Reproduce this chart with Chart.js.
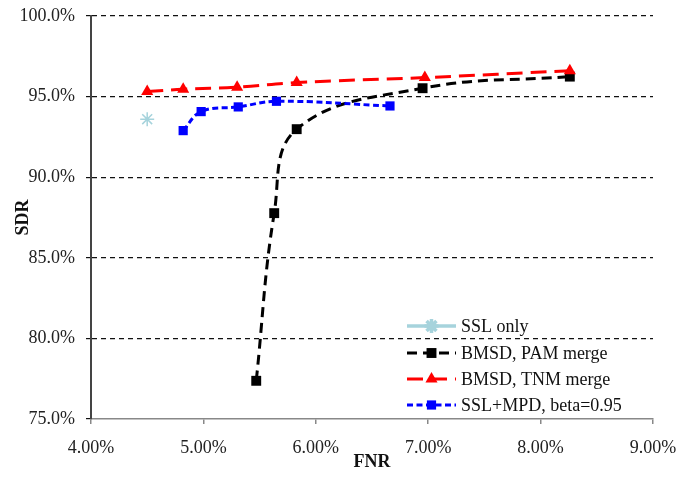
<!DOCTYPE html>
<html>
<head>
<meta charset="utf-8">
<script src="https://cdn.jsdelivr.net/npm/chart.js@4"></script>
<style>
  html, body { margin: 0; padding: 0; background: #fff; }
  #wrap { width: 678px; height: 478px; }
</style>
</head>
<body>
<div id="wrap"><canvas id="c"></canvas></div>
<script>
// datos (porcentajes)
const sslOnlyFNR = [4.50];
const sslOnlySDR = [93.6];
const pamFNR = [5.47, 5.63, 5.83, 6.95, 8.26];
const pamSDR = [77.37, 87.77, 92.98, 95.52, 96.24];
const tnmFNR = [4.50, 4.82, 5.30, 5.83, 6.97, 8.26];
const tnmSDR = [95.31, 95.46, 95.58, 95.87, 96.18, 96.61];
const mpdFNR = [4.82, 4.98, 5.31, 5.65, 6.66];
const mpdSDR = [92.89, 94.07, 94.36, 94.71, 94.42];
const xTicks = [4, 5, 6, 7, 8, 9];
const yTicks = [75, 80, 85, 90, 95, 100];

const toPts = (xs, ys) => xs.map((x, i) => ({ x: x, y: ys[i] }));
const FONT = 'Liberation Serif';

/* Leyenda dibujada dentro del área del gráfico, abajo a la derecha */
const insideLegend = {
  id: 'insideLegend',
  afterDraw(chart) {
    const ctx = chart.ctx;
    const x0 = 407, x1 = 456, tx = 461;
    const rows = [326, 353, 379, 405];
    ctx.save();
    chart.data.datasets.forEach((ds, i) => {
      const y = rows[i];
      ctx.strokeStyle = ds.borderColor;
      ctx.lineWidth = ds.borderWidth;
      ctx.setLineDash(ds.borderDash || []);
      ctx.beginPath();
      ctx.moveTo(x0, y);
      ctx.lineTo(x1, y);
      ctx.stroke();
      ctx.setLineDash([]);
      ctx.fillStyle = ds.pointBackgroundColor;
      ctx.strokeStyle = ds.pointBorderColor;
      Chart.helpers.drawPoint(ctx, {
        pointStyle: ds.pointStyle, radius: ds.pointRadius, rotation: 0,
        borderWidth: ds.pointBorderWidth
      }, (x0 + x1) / 2, y);
      ctx.fillStyle = '#111';
      ctx.font = '18px "' + FONT + '"';
      ctx.textAlign = 'left';
      ctx.textBaseline = 'middle';
      ctx.fillText(ds.label, tx, y + 1);
    });
    ctx.restore();
  }
};

new Chart(document.getElementById('c'), {
  type: 'scatter',
  data: {
    datasets: [{
      label: 'SSL only',
      data: toPts(sslOnlyFNR, sslOnlySDR),
      borderColor: '#a6d3dc',
      borderWidth: 3.5,
      pointStyle: 'star',
      pointRadius: 7,
      pointBorderWidth: 1.5,
      pointBackgroundColor: '#a6d3dc',
      pointBorderColor: '#a6d3dc',
      showLine: false
    }, {
      label: 'BMSD, PAM merge',
      data: toPts(pamFNR, pamSDR),
      borderColor: '#000000',
      borderWidth: 3,
      borderDash: [10, 6],
      pointStyle: 'rect',
      pointRadius: 7,
      pointBorderWidth: 0,
      pointBackgroundColor: '#000000',
      pointBorderColor: '#000000',
      showLine: true,
      tension: 0.4,
      order: 2
    }, {
      label: 'BMSD, TNM merge',
      data: toPts(tnmFNR, tnmSDR),
      borderColor: '#ff0000',
      borderWidth: 3,
      borderDash: [16, 8],
      pointStyle: 'triangle',
      pointRadius: 7,
      pointBorderWidth: 0,
      pointBackgroundColor: '#ff0000',
      pointBorderColor: '#ff0000',
      showLine: true,
      tension: 0.4,
      order: 1
    }, {
      label: 'SSL+MPD, beta=0.95',
      data: toPts(mpdFNR, mpdSDR),
      borderColor: '#0000ff',
      borderWidth: 3,
      borderDash: [6, 3.5],
      pointStyle: 'rect',
      pointRadius: 6.5,
      pointBorderWidth: 0,
      pointBackgroundColor: '#0000ff',
      pointBorderColor: '#0000ff',
      showLine: true,
      tension: 0.4,
      order: 0
    }]
  },
  options: {
    responsive: true,
    maintainAspectRatio: false,
    animation: false,
    layout: { padding: { left: 0, right: 25, top: 16, bottom: 4 } },
    scales: {
      x: {
        type: 'linear',
        min: 4, max: 9,
        afterBuildTicks: (s) => { s.ticks = xTicks.map(v => ({ value: v })); },
        afterFit: (s) => { s.height = 55; s.paddingLeft = 0; s.paddingRight = 0; },
        ticks: {
          padding: 13,
          color: '#222',
          font: { family: FONT, size: 18 },
          callback: (v) => v.toFixed(2) + '%'
        },
        grid: { drawOnChartArea: false, drawTicks: true, tickLength: 5, color: '#888', lineWidth: 1.5 },
        border: { color: '#888', width: 1.5 },
        title: {
          display: true, text: 'FNR', color: '#111',
          font: { family: FONT, size: 18, weight: 'bold' },
          padding: { top: 0, bottom: 1 }
        }
      },
      y: {
        min: 75, max: 100,
        afterBuildTicks: (s) => { s.ticks = yTicks.map(v => ({ value: v })); },
        afterFit: (s) => { s.width = 91; s.paddingTop = 0; s.paddingBottom = 0; },
        ticks: {
          padding: 11,
          color: '#222',
          font: { family: FONT, size: 18 },
          callback: (v) => v.toFixed(1) + '%'
        },
        grid: {
          color: (c) => c.tick && c.tick.value === 75 ? 'rgba(0,0,0,0)' : '#111',
          lineWidth: 1.2,
          tickLength: 5,
          tickColor: '#111',
          tickBorderDash: [5, 4]
        },
        border: { color: '#444', width: 2, dash: [5, 4] },
        title: {
          display: true, text: 'SDR', color: '#111',
          font: { family: FONT, size: 18, weight: 'bold' },
          padding: { top: 13, bottom: 0 }
        }
      }
    },
    plugins: {
      legend: { display: false },
      tooltip: { enabled: false }
    }
  },
  plugins: [insideLegend]
});
</script>
</body>
</html>
